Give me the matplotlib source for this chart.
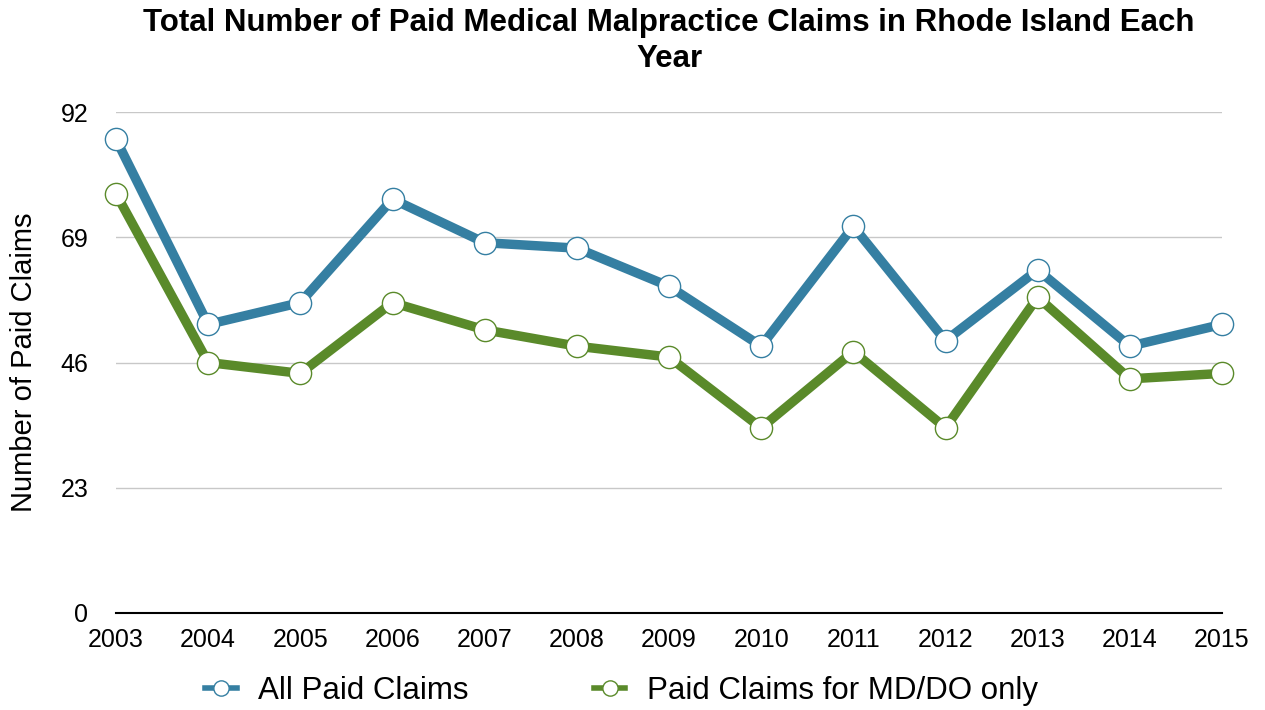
import matplotlib.pyplot as plt
from matplotlib.lines import Line2D

plt.rcParams['font.family'] = ['Liberation Sans', 'DejaVu Sans']

# Paid claims per year
years = [2003, 2004, 2005, 2006, 2007, 2008, 2009, 2010, 2011, 2012, 2013, 2014, 2015]
all_claims = [87, 53, 57, 76, 68, 67, 60, 49, 71, 50, 63, 49, 53]
md_do_claims = [77, 46, 44, 57, 52, 49, 47, 34, 48, 34, 58, 43, 44]
y_ticks = [0, 23, 46, 69, 92]

blue = '#357fa2'
green = '#5a8a2a'

fig = plt.figure(figsize=(12.65, 7.1), dpi=100)
ax = fig.add_axes([116 / 1265, 1 - 613 / 710, (1222 - 116) / 1265, (613 - 112) / 710])

for vals, col, lab in [(all_claims, blue, 'All Paid Claims'),
                       (md_do_claims, green, 'Paid Claims for MD/DO only')]:
    ax.plot(years, vals, color=col, lw=6.8, marker='o', markersize=16,
            markerfacecolor='white', markeredgecolor=col, markeredgewidth=1,
            clip_on=False, zorder=3, label=lab)

ax.set_xlim(2003, 2015)
ax.set_ylim(0, 92)
ax.set_yticks(y_ticks)
ax.set_xticks(years)
ax.grid(axis='y', color='#c8c8c8', lw=1)
ax.set_axisbelow(True)
for s in ['top', 'right', 'left']:
    ax.spines[s].set_visible(False)
ax.spines['bottom'].set_color('black')
ax.spines['bottom'].set_linewidth(1.5)
ax.tick_params(axis='both', length=0, labelsize=18)
ax.tick_params(axis='x', pad=11)
ax.tick_params(axis='y', pad=20)
ax.set_ylabel('Number of Paid Claims', fontsize=21, labelpad=16)

# title centred over the plot area
fig.text(669 / 1265, 1 - 41 / 710,
         'Total Number of Paid Medical Malpractice Claims in Rhode Island Each\nYear',
         ha='center', va='center', fontsize=22.5, fontweight='bold', linespacing=1.27)

handles = [Line2D([0], [0], color=blue, lw=4, marker='o', markersize=11,
                  markerfacecolor='white', markeredgecolor=blue),
           Line2D([0], [0], color=green, lw=4, marker='o', markersize=11,
                  markerfacecolor='white', markeredgecolor=green)]
fig.legend(handles, ['All Paid Claims', 'Paid Claims for MD/DO only'],
           loc='center', bbox_to_anchor=(0.4915, 0.027), ncol=2, frameon=False,
           fontsize=22.5, handlelength=1.0, columnspacing=4.0, handletextpad=0.7)

fig.savefig('out.png', dpi=100)
